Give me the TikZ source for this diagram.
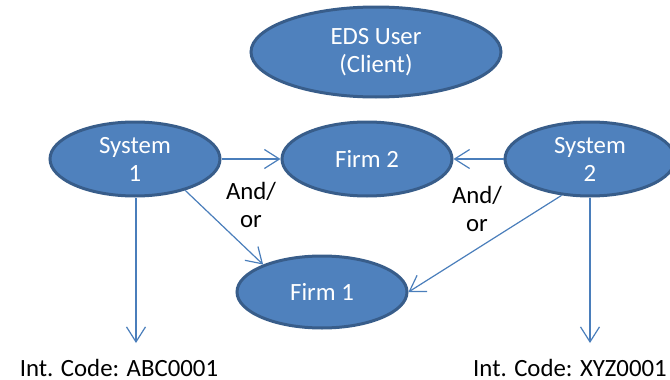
\documentclass[tikz,border=0pt]{standalone}
\usepackage{fontspec}
\setmainfont{Carlito}
\usetikzlibrary{shapes.geometric, arrows.meta}
\definecolor{boxfill}{HTML}{4F81BD}
\definecolor{boxline}{HTML}{385D8A}
\definecolor{linkcol}{HTML}{4A7EBB}
\begin{document}
\begin{tikzpicture}[x=0.5pt, y=-0.5pt,
    every node/.style={font=\fontsize{12.4}{14}\selectfont, align=center},
    party/.style={ellipse, draw=boxline, fill=boxfill, line width=1.5pt, text=white, inner sep=0pt},
    link/.style={draw=linkcol, line width=0.6pt, -{Straight Barb[length=7.5pt, width=9.5pt]}}]
    \useasboundingbox (0,0) rectangle (670,380);
    % Nodes
    \node[party, minimum width=125pt, minimum height=45pt] (user) at (376, 52) {EDS User\\(Client)};
    \node[party, minimum width=85pt, minimum height=37pt] (sysa) at (135, 159) {System\\1};
    \node[party, minimum width=85pt, minimum height=37pt] (firmb) at (367, 159) {Firm 2};
    \node[party, minimum width=85pt, minimum height=37pt] (sysb) at (590, 159) {System\\2};
    \node[party, minimum width=85pt, minimum height=36pt] (firma) at (322, 292) {Firm 1};

    % Codes
    \coordinate (enda) at (136, 343);
    \coordinate (endb) at (590, 343);
    \node (codea) at (119, 368) {Int. Code: ABC0001};
    \node (codeb) at (570, 368) {Int. Code: XYZ0001};

    % Edges
    \draw[link] (sysa) -- (firmb);
    \draw[link] (sysb) -- (firmb);
    \draw[link] (sysa.-32) -- (firma.155);
    \draw[link] (sysb.232) -- (firma.east);
    \draw[link] (sysa.south -| enda) -- (enda);
    \draw[link] (sysb.south) -- (endb);

    % Labels
    \node (anda) at (251, 205) {And/\\or};
    \node (andb) at (477, 209) {And/\\or};
\end{tikzpicture}
\end{document}
